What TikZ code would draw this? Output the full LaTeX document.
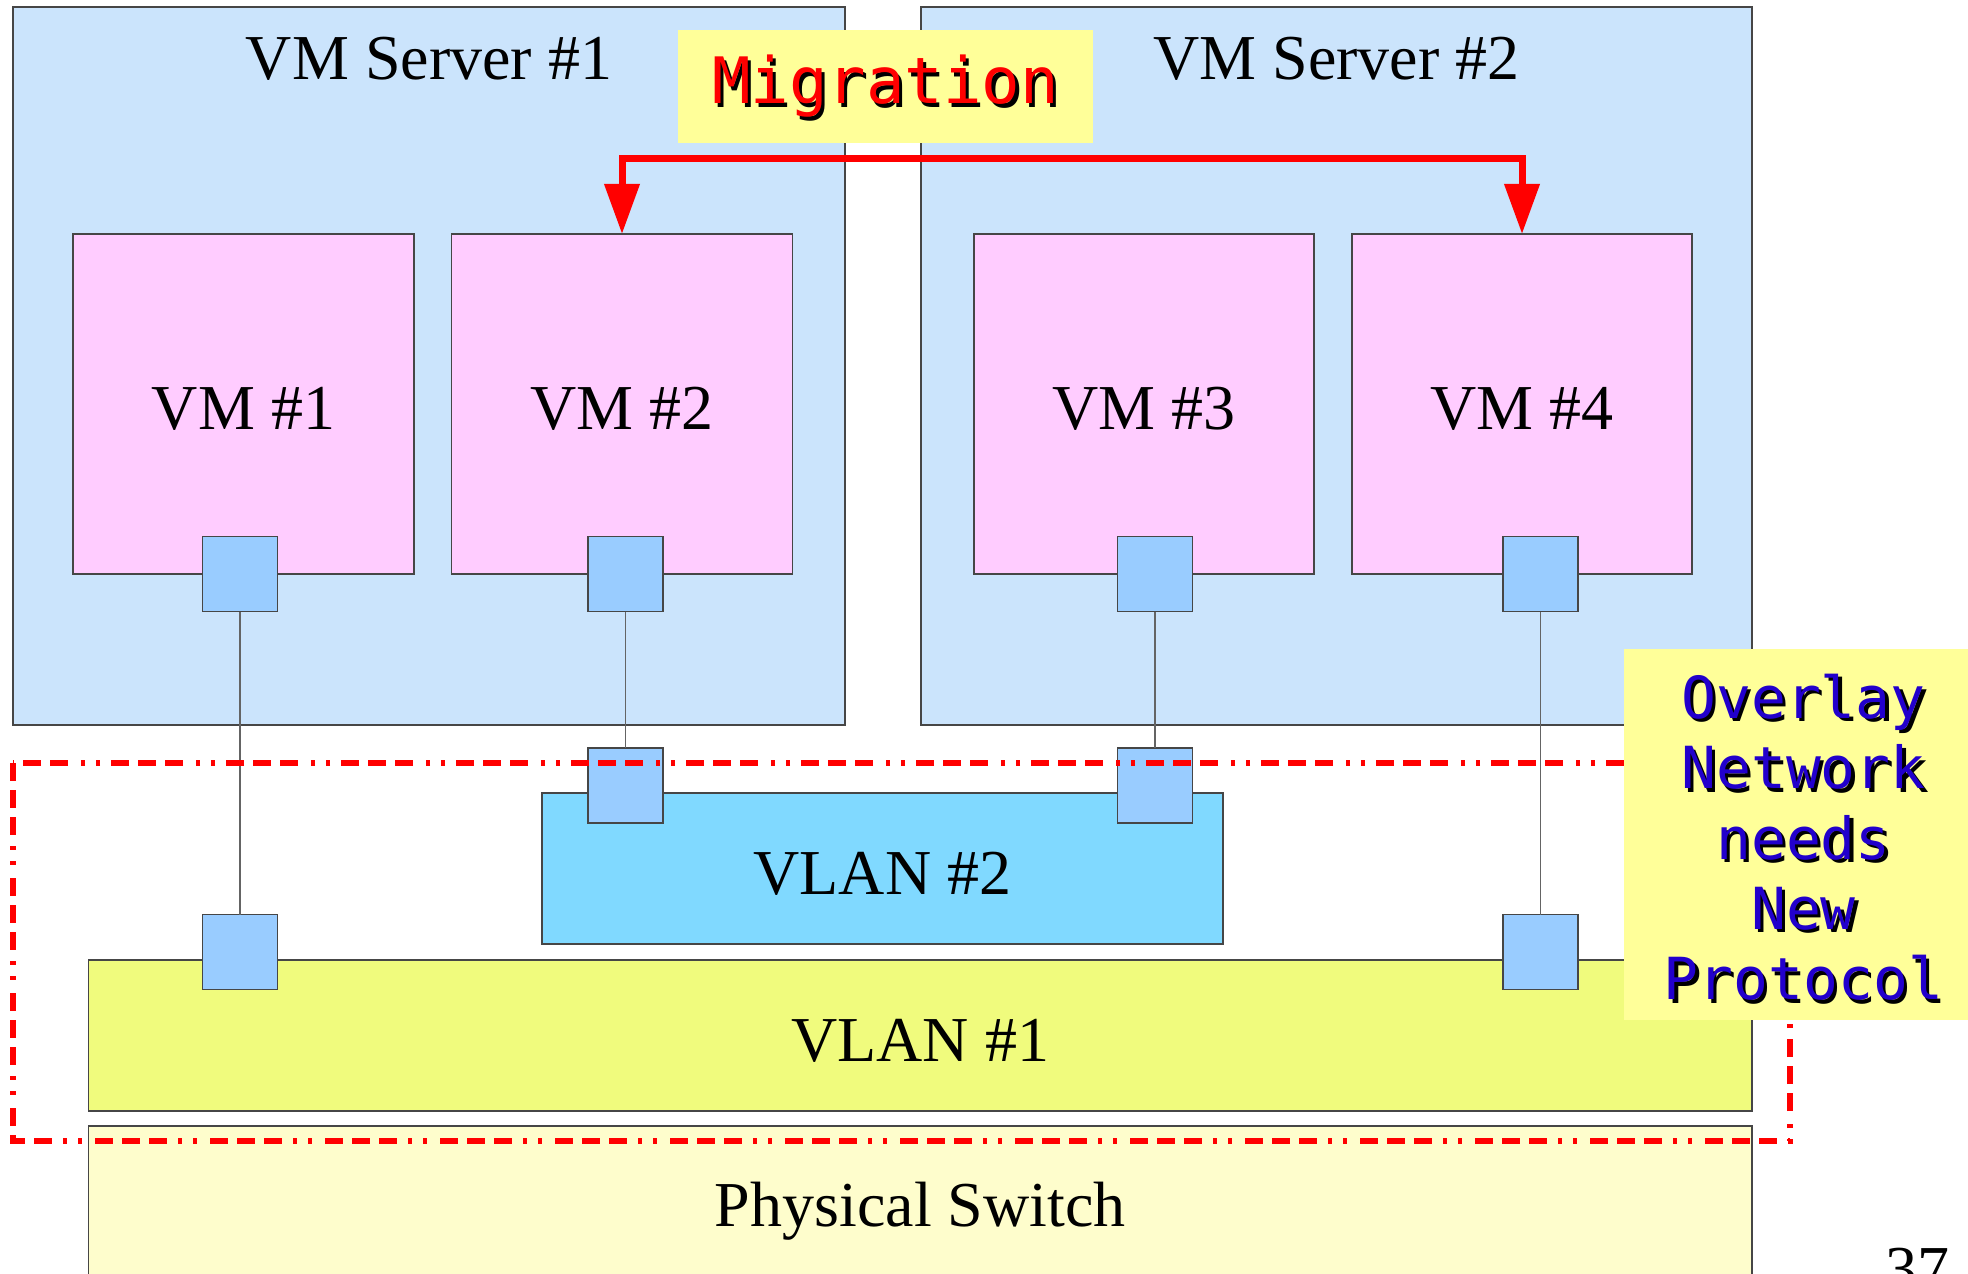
\documentclass[tikz,border=0pt]{standalone}
\usepackage{fontspec}
\setmainfont{Liberation Serif}
\newfontfamily\dejamono{DejaVu Sans Mono}
\usetikzlibrary{arrows.meta}
\definecolor{srvfill}{RGB}{203,228,252}
\definecolor{vmfill}{RGB}{255,204,255}
\definecolor{portfill}{RGB}{153,204,255}
\definecolor{vlantwo}{RGB}{128,217,255}
\definecolor{vlanone}{RGB}{240,251,125}
\definecolor{physfill}{RGB}{254,253,204}
\definecolor{notefill}{RGB}{255,255,153}
\definecolor{ovblue}{RGB}{34,0,204}
\definecolor{edgegray}{RGB}{70,70,70}
\definecolor{wiregray}{RGB}{100,100,100}
\newcommand\shadowed[2]{\rlap{\kern1.6pt\raisebox{-1.6pt}[0pt][0pt]{\textcolor{black}{#2}}}\textcolor{#1}{#2}}
\tikzset{
  boxbase/.style={draw=edgegray, line width=0.7pt, inner sep=0pt, outer sep=0pt},
  serverbox/.style={boxbase, fill=srvfill, minimum width=416pt, minimum height=359pt},
  vmbox/.style={boxbase, fill=vmfill, minimum width=170.5pt, minimum height=170pt,
    font=\fontsize{32}{38}\selectfont, text height=25.5pt, text depth=0pt},
  portbox/.style={boxbase, fill=portfill, minimum size=37.5pt},
  vlanbox/.style={boxbase, minimum height=75.5pt,
    font=\fontsize{32}{38}\selectfont, text height=25.5pt, text depth=0pt},
  serif/.style={font=\fontsize{32}{38}\selectfont, inner sep=0pt},
  notebox/.style={fill=notefill, inner sep=0pt, outer sep=0pt},
  wire/.style={draw=wiregray, line width=0.7pt},
  migarrow/.style={draw=red, line width=3.5pt, {Triangle[width=17pt,length=25pt]}-{Triangle[width=17pt,length=25pt]}},
  overlayline/.style={draw=red, line width=3.4pt,
    dash pattern=on 9pt off 4.5pt on 9pt off 4.5pt on 9pt off 5.5pt on 2pt off 5.5pt on 2pt off 6.5pt}
}
\begin{document}
\begin{tikzpicture}[x=0.5pt, y=-0.5pt]
\useasboundingbox (0,0) rectangle (1968,1273);
% servers
\node[serverbox] (srv1) at (429,366) {};
\node[serverbox, minimum width=415.5pt] (srv2) at (1336.5,366) {};
\node[serif, anchor=base] (srv1t) at (429,80) {VM Server \#1};
\node[serif, anchor=base] (srv2t) at (1336.5,80) {VM Server \#2};
% migration label
\node[notebox, minimum width=207.5pt, minimum height=56.5pt,
  font=\dejamono\fontsize{32}{38}\selectfont] (mig) at (885.5,86.5) {\shadowed{red}{Migration}};
% VMs
\node[vmbox] (vm1) at (243.5,404) {VM \#1};
\node[vmbox] (vm2) at (622,404) {VM \#2};
\node[vmbox, minimum width=170pt] (vm3) at (1144,404) {VM \#3};
\node[vmbox, minimum width=170pt] (vm4) at (1522,404) {VM \#4};
% migration arrow
\coordinate (mtop) at (1072,158.5);
\draw[migarrow] (vm2.north) |- (mtop) -| (vm4.north);
% VLAN boxes and switch
\node[vlanbox, fill=vlantwo, minimum width=340.5pt] (vlan2) at (882.5,868.5) {VLAN \#2};
\node[vlanbox, fill=vlanone, minimum width=831.7pt] (vlan1) at (920.3,1035.5) {VLAN \#1};
\node[boxbase, fill=physfill, minimum width=831.7pt, minimum height=87pt] (phys) at (920.3,1213) {};
\node[serif, anchor=base] (physt) at (920.3,1226) {Physical Switch};
% ports
\node[portbox] (p1) at (240,574) {};
\node[portbox] (p2) at (625.5,574) {};
\node[portbox] (p3) at (1155,574) {};
\node[portbox] (p4) at (1540.5,574) {};
\node[portbox] (q2) at (625.5,785.5) {};
\node[portbox] (q3) at (1155,785.5) {};
\node[portbox] (q1) at (240,952) {};
\node[portbox] (q4) at (1540.5,952) {};
% wires
\draw[wire] (p1.south) -- (q1.north);
\draw[wire] (p2.south) -- (q2.north);
\draw[wire] (p3.south) -- (q3.north);
\draw[wire] (p4.south) -- (q4.north);
% overlay boundary
\coordinate (ovtl) at (13,763);
\coordinate (ovbr) at (1790,1141);
\draw[overlayline] (ovtl) rectangle (ovbr);
% overlay note
\node[notebox, minimum width=183pt, minimum height=185.5pt] (ovbox) at (1807,834.5) {};
\node[align=center, inner sep=0pt, font=\dejamono\fontsize{29}{35.15}\selectfont] (ovtext) at (1803.5,837.5)
  {\shadowed{ovblue}{Overlay}\\\shadowed{ovblue}{Network}\\\shadowed{ovblue}{needs}\\\shadowed{ovblue}{New}\\\shadowed{ovblue}{Protocol}};
% page number
\node[serif, anchor=base] (pgno) at (1917,1290) {37};
\end{tikzpicture}
\end{document}
